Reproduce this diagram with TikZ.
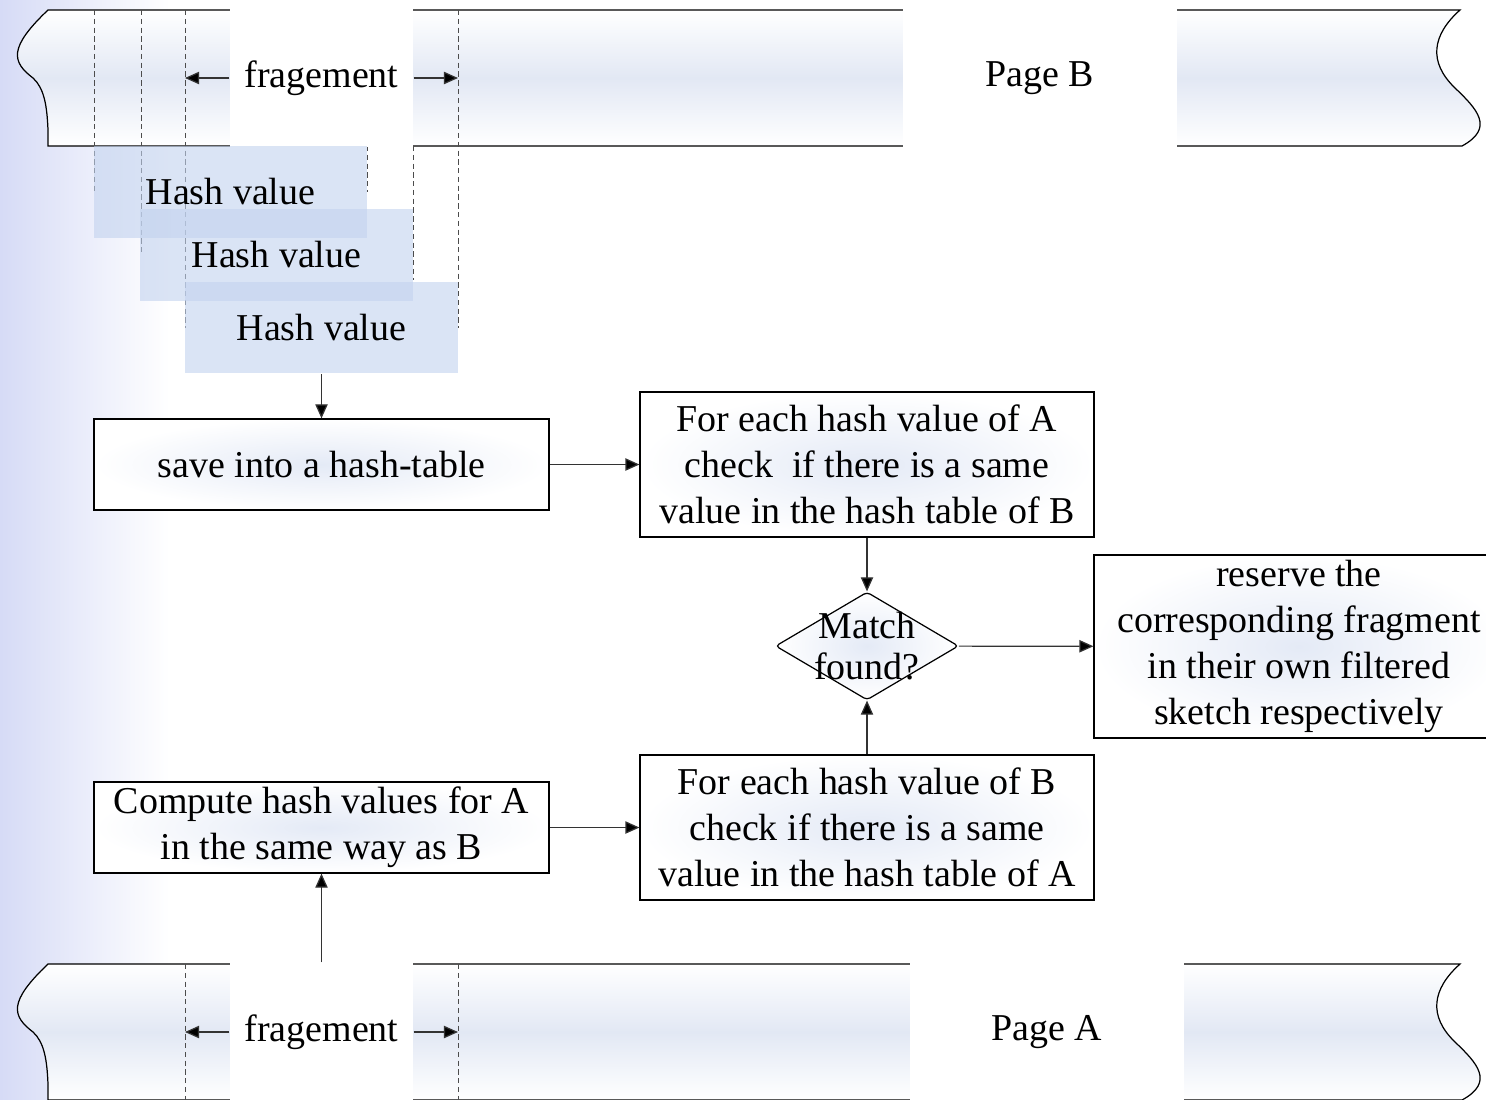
\documentclass[tikz,border=0pt]{standalone}
\usepackage{fontspec}
\setmainfont{Liberation Serif}
\usetikzlibrary{arrows.meta,shapes.geometric,positioning}

\definecolor{slidebg}{RGB}{214,219,246}
\definecolor{boxmid}{RGB}{228,234,246}
\definecolor{stripmid}{RGB}{226,232,244}
\definecolor{hashfill}{RGB}{194,210,238}

\begin{document}
\begin{tikzpicture}[x=0.02cm,y=-0.02cm,line width=0.7pt,
	font=\fontsize{21.6}{26.2}\selectfont,
	>={Triangle[length=8pt,width=7pt]},
	strip/.style={draw=black,top color=white,bottom color=white,middle color=stripmid},
	cover/.style={fill=white,inner sep=0pt,minimum height=2.76cm},
	fragline/.style={draw=black!70,line width=0.5pt,dash pattern=on 3pt off 2pt},
	hashbox/.style={fill=hashfill,fill opacity=0.6,text opacity=1,inner sep=0pt,minimum width=5.46cm,minimum height=1.84cm},
	box/.style={draw=black,inner sep=0pt,align=center,inner color=boxmid,outer color=white},
	decision/.style={shape=diamond,draw=black,inner sep=0pt,minimum width=3.66cm,minimum height=2.16cm,inner color=boxmid,outer color=white},
	flow/.style={draw=black!80,->}]
	\useasboundingbox (0,0) rectangle (1486,1099);
	\shade[left color=slidebg,right color=white] (0,0) rectangle (170,1099);

	\path[strip] (48,10) -- (1460,10) .. controls (1432,35) and (1428,62) .. (1455,88) .. controls (1477,109) and (1495,128) .. (1462,146) -- (48,146) -- (48,130) .. controls (47,105) and (44,88) .. (33,78) .. controls (12,62) and (8,48) .. (48,10) -- cycle;
	\begin{scope}[shift={(0,954)}]
		\path[strip] (48,10) -- (1460,10) .. controls (1432,35) and (1428,62) .. (1455,88) .. controls (1477,109) and (1495,128) .. (1462,146) -- (48,146) -- (48,130) .. controls (47,105) and (44,88) .. (33,78) .. controls (12,62) and (8,48) .. (48,10) -- cycle;
	\end{scope}

	\draw[fragline] (94,10) -- (94,192);
	\draw[fragline] (141,10) -- (141,255);
	\draw[fragline] (185,10) -- (185,328);
	\draw[fragline] (367,146) -- (367,192);
	\draw[fragline] (413,146) -- (413,280);
	\draw[fragline] (458,10) -- (458,328);
	\draw[fragline] (185,964) -- (185,1100);
	\draw[fragline] (458,964) -- (458,1100);

	\node[cover,minimum width=3.66cm] (fragB) at (321.5,78) {fragement};
	\node[cover,minimum width=5.48cm] (pageB) at (1040,78) {Page B};
	\node[cover,minimum width=3.66cm] (fragA) at (321.5,1032) {fragement};
	\node[cover,minimum width=5.48cm] (pageA) at (1047,1032) {Page A};
	\coordinate (fBl) at (185,78);
	\coordinate (fBr) at (458,78);
	\coordinate (fAl) at (185,1032);
	\coordinate (fAr) at (458,1032);
	\path [->,draw=black!80] (fragB) edge (fBl);
	\path [->,draw=black!80] (fragB) edge (fBr);
	\path [->,draw=black!80] (fragA) edge (fAl);
	\path [->,draw=black!80] (fragA) edge (fAr);

	\node[hashbox] (h1) at (230.5,192) {Hash value};
	\node[hashbox] (h2) at (276.5,255) {Hash value};
	\node[hashbox] (h3) at (321.5,327.5) {Hash value};

	\node[box,minimum width=9.1cm,minimum height=1.82cm] (save) at (321.5,464.5) {save into a hash-table};
	\node[box,minimum width=9.08cm,minimum height=2.9cm] (checkA) at (867,464.5) {For each hash value of A\\check~ if there is a same\\value in the hash table of B};
	\node[decision,rounded corners=2pt] (match) at (867,646) {};
	\node[align=center,font=\fontsize{21.6}{23.2}\selectfont] (matchtxt) at (867,646) {Match\\found?};
	\node[box,minimum width=8.2cm,minimum height=3.66cm] (reserve) at (1299,646.5) {reserve the\\corresponding fragment\\in their own filtered\\sketch respectively};
	\node[box,minimum width=9.08cm,minimum height=2.9cm] (checkB) at (867,827.5) {For each hash value of B\\check if there is a same\\value in the hash table of A};
	\node[box,minimum width=9.1cm,minimum height=1.82cm] (compute) at (321.5,827.5) {Compute hash values for A\\in the same way as B};

	\path [flow] (h3) edge (save);
	\path [flow] (save) edge (checkA);
	\path [flow] (checkA) edge (match);
	\path [flow] (checkB) edge (match);
	\path [flow] (match) edge (reserve);
	\path [flow] (compute) edge (checkB);
	\path [flow] (fragA) edge (compute);
\end{tikzpicture}
\end{document}
